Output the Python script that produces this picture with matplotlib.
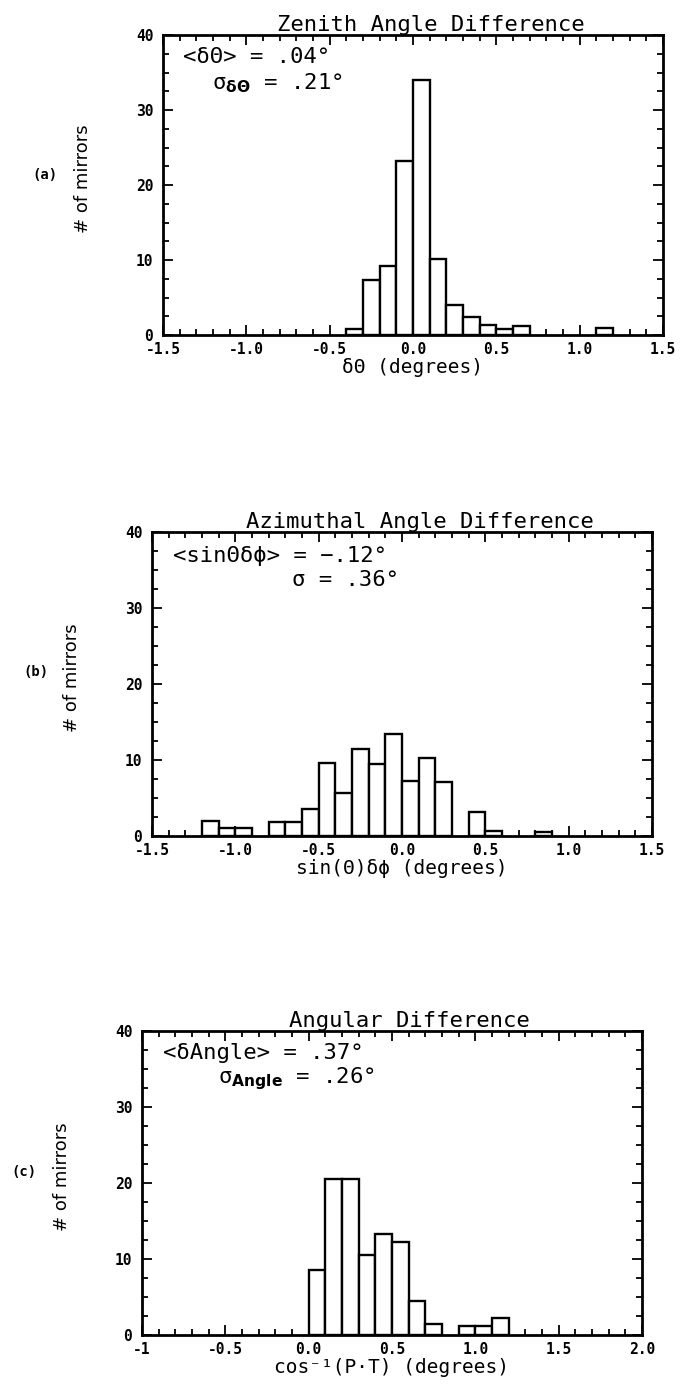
import numpy as np
import matplotlib
matplotlib.use("Agg")
import matplotlib.pyplot as plt
from matplotlib.ticker import MultipleLocator, FixedLocator, FixedFormatter

plt.rcParams["font.family"] = ["DejaVu Sans Mono", "DejaVu Sans"]
plt.rcParams["mathtext.fontset"] = "dejavusans"
plt.rcParams["axes.unicode_minus"] = False

# histogram bins (left edges, width 0.1) and bar heights for each panel
zen_left = [-0.4, -0.3, -0.2, -0.1, 0.0, 0.1, 0.2, 0.3, 0.4, 0.5, 0.6, 1.1]
zen_count = [0.8, 7.3, 9.2, 23.2, 34.0, 10.2, 4.0, 2.4, 1.4, 0.8, 1.2, 1.0]

azi_left = [-1.2, -1.1, -1.0, -0.8, -0.7, -0.6, -0.5, -0.4, -0.3, -0.2, -0.1,
            0.0, 0.1, 0.2, 0.4, 0.5, 0.8]
azi_count = [2.0, 1.0, 1.0, 1.8, 1.8, 3.6, 9.6, 5.6, 11.5, 9.5, 13.4,
             7.3, 10.3, 7.1, 3.2, 0.6, 0.5]

ang_left = [0.0, 0.1, 0.2, 0.3, 0.4, 0.5, 0.6, 0.7, 0.9, 1.0, 1.1]
ang_count = [8.5, 20.5, 20.5, 10.5, 13.3, 12.3, 4.5, 1.5, 1.2, 1.2, 2.2]

zen_ticks = [-1.5, -1.0, -0.5, 0.0, 0.5, 1.0, 1.5]
zen_labels = ["-1.5", "-1.0", "-0.5", "0.0", "0.5", "1.0", "1.5"]
ang_ticks = [-1.0, -0.5, 0.0, 0.5, 1.0, 1.5, 2.0]
ang_labels = ["-1", "-0.5", "0.0", "0.5", "1.0", "1.5", "2.0"]
y_ticks = [0, 10, 20, 30, 40]

bin_w = 0.1

W, H = 696, 1387
fig = plt.figure(figsize=(W / 100, H / 100), dpi=100)

# axes boxes in pixels: left, top, right, bottom
panels = [
    dict(box=(163, 35, 663, 335), left=zen_left, count=zen_count,
         xlim=(-1.5, 1.5), ticks=zen_ticks, labels=zen_labels,
         title="Zenith Angle Difference", xlabel="δΘ (degrees)",
         tag="(a)", tag_xy=(45, 175),
         line1="<δΘ> = .04°", line2=r"σ$_{\mathbf{δΘ}}$ = .21°",
         l1=(0.04, 0.927), l2=(0.098, 0.84)),
    dict(box=(152, 532, 652, 836), left=azi_left, count=azi_count,
         xlim=(-1.5, 1.5), ticks=zen_ticks, labels=zen_labels,
         title="Azimuthal Angle Difference", xlabel="sin(Θ)δϕ (degrees)",
         tag="(b)", tag_xy=(36, 672),
         line1="<sinΘδϕ> = −.12°", line2="σ = .36°",
         l1=(0.042, 0.921), l2=(0.28, 0.842)),
    dict(box=(142, 1031, 642, 1335), left=ang_left, count=ang_count,
         xlim=(-1.0, 2.0), ticks=ang_ticks, labels=ang_labels,
         title="Angular Difference", xlabel="cos⁻¹(P·T) (degrees)",
         tag="(c)", tag_xy=(24, 1172),
         line1="<δAngle> = .37°", line2=r"σ$_{\mathbf{Angle}}$ = .26°",
         l1=(0.042, 0.928), l2=(0.152, 0.845)),
]

for p in panels:
    x0, y0, x1, y1 = p["box"]
    ax = fig.add_axes([x0 / W, 1 - y1 / H, (x1 - x0) / W, (y1 - y0) / H])
    ax.bar(p["left"], p["count"], width=bin_w, align="edge",
           facecolor="white", edgecolor="black", linewidth=1.7)
    ax.set_xlim(*p["xlim"])
    ax.set_ylim(0, 40)

    ax.xaxis.set_major_locator(FixedLocator(p["ticks"]))
    ax.xaxis.set_major_formatter(FixedFormatter(p["labels"]))
    ax.xaxis.set_minor_locator(MultipleLocator(0.1))
    ax.yaxis.set_major_locator(FixedLocator(y_ticks))
    ax.yaxis.set_minor_locator(MultipleLocator(2.5))
    ax.tick_params(which="both", direction="in", top=True, right=True,
                   width=1.3, colors="black")
    ax.tick_params(which="major", length=7, labelsize=10.5)
    ax.tick_params(axis="y", which="major", pad=7)
    ax.tick_params(axis="x", which="major", pad=5)
    ax.tick_params(which="minor", length=4)
    for lab in ax.get_xticklabels() + ax.get_yticklabels():
        lab.set_fontweight("bold")
    for s in ax.spines.values():
        s.set_linewidth(2.0)

    ax.set_title(p["title"], fontsize=16, pad=2, x=0.535)
    ax.set_xlabel(p["xlabel"], fontsize=14, labelpad=1)
    ax.set_ylabel("# of mirrors", fontsize=13, family="DejaVu Sans")
    ax.yaxis.set_label_coords(-71 / (x1 - x0), 0.52)
    fig.text(p["tag_xy"][0] / W, 1 - p["tag_xy"][1] / H, p["tag"],
             fontsize=10, fontweight="bold", ha="center", va="center")

    ax.text(*p["l1"], p["line1"], transform=ax.transAxes, fontsize=16,
            ha="left", va="center")
    ax.text(*p["l2"], p["line2"], transform=ax.transAxes, fontsize=16,
            ha="left", va="center")

fig.savefig("out.png", dpi=100)
